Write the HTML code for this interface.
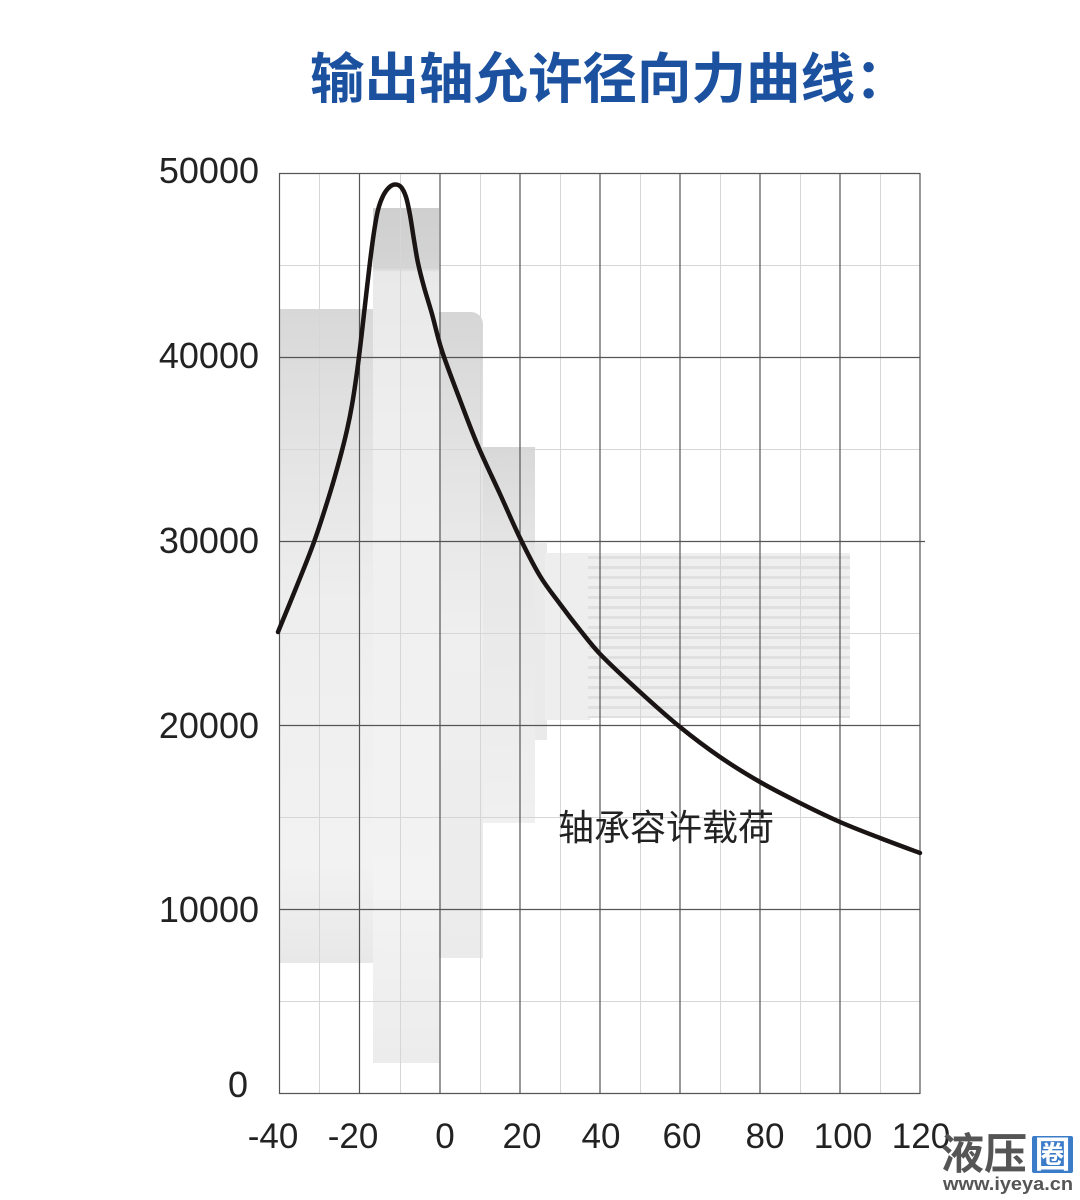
<!DOCTYPE html>
<html><head><meta charset="utf-8">
<style>
html,body{margin:0;padding:0;background:#fff;}
svg{display:block;}
</style></head>
<body>
<svg width="1080" height="1200" viewBox="0 0 1080 1200" xmlns="http://www.w3.org/2000/svg">
<defs>
<linearGradient id="gL" x1="0" y1="309" x2="0" y2="963" gradientUnits="userSpaceOnUse">
<stop offset="0" stop-color="#d8d8d8"/><stop offset="0.2" stop-color="#e3e3e3"/><stop offset="0.45" stop-color="#eeeeee"/><stop offset="0.85" stop-color="#f2f2f2"/><stop offset="1" stop-color="#e8e8e8"/>
</linearGradient>
<linearGradient id="gC" x1="0" y1="208" x2="0" y2="1063" gradientUnits="userSpaceOnUse">
<stop offset="0" stop-color="#cfcfcf"/><stop offset="0.07" stop-color="#d4d4d4"/><stop offset="0.075" stop-color="#e9e9e9"/><stop offset="0.3" stop-color="#efefef"/><stop offset="0.8" stop-color="#f3f3f3"/><stop offset="1" stop-color="#ececec"/>
</linearGradient>
<linearGradient id="gR" x1="0" y1="312" x2="0" y2="958" gradientUnits="userSpaceOnUse">
<stop offset="0" stop-color="#d6d6d6"/><stop offset="0.25" stop-color="#e4e4e4"/><stop offset="0.5" stop-color="#efefef"/><stop offset="1" stop-color="#ebebeb"/>
</linearGradient>
<linearGradient id="gS" x1="0" y1="447" x2="0" y2="823" gradientUnits="userSpaceOnUse">
<stop offset="0" stop-color="#d8d8d8"/><stop offset="0.3" stop-color="#e7e7e7"/><stop offset="1" stop-color="#f0f0f0"/>
</linearGradient>
<pattern id="stripes" x="0" y="553" width="20" height="10" patternUnits="userSpaceOnUse">
<rect x="0" y="0" width="20" height="10" fill="#efefef"/>
<rect x="0" y="3" width="20" height="3" fill="#e0e0e0"/>
</pattern>
</defs>

<!-- title -->
<text x="310" y="98" font-family="'Liberation Sans','Noto Sans CJK SC',sans-serif" font-size="54.5" font-weight="bold" fill="#1c51a0">输出轴允许径向力曲线：</text>

<!-- shaft background -->
<rect x="279" y="309" width="94" height="654" fill="url(#gL)"/>
<rect x="373" y="208" width="66" height="855" fill="url(#gC)"/>
<path d="M439,312 L472,312 Q483,314 483,325 L483,958 L439,958 Z" fill="url(#gR)"/>
<rect x="483" y="447" width="52" height="376" fill="url(#gS)"/>
<rect x="535" y="543" width="12" height="197" fill="#eaeaea"/>
<rect x="545" y="553" width="45" height="167" fill="#eeeeee"/>
<rect x="588" y="553" width="262" height="165" fill="url(#stripes)"/>

<!-- minor grid -->
<g stroke="#d6d6d6" stroke-width="1">
<line x1="319.5" y1="173" x2="319.5" y2="1093"/>
<line x1="400.5" y1="173" x2="400.5" y2="1093"/>
<line x1="480.5" y1="173" x2="480.5" y2="1093"/>
<line x1="560.5" y1="173" x2="560.5" y2="1093"/>
<line x1="640.5" y1="173" x2="640.5" y2="1093"/>
<line x1="720.5" y1="173" x2="720.5" y2="1093"/>
<line x1="800.5" y1="173" x2="800.5" y2="1093"/>
<line x1="880.5" y1="173" x2="880.5" y2="1093"/>
<line x1="279" y1="265.5" x2="920" y2="265.5"/>
<line x1="279" y1="449.5" x2="920" y2="449.5"/>
<line x1="279" y1="633.5" x2="920" y2="633.5"/>
<line x1="279" y1="817.5" x2="920" y2="817.5"/>
<line x1="279" y1="1001.5" x2="920" y2="1001.5"/>
</g>
<!-- major grid -->
<g stroke="#555" stroke-width="1.2">
<line x1="279.5" y1="173" x2="279.5" y2="1094"/>
<line x1="359.5" y1="173" x2="359.5" y2="1094"/>
<line x1="440" y1="173" x2="440" y2="1094"/>
<line x1="520" y1="173" x2="520" y2="1094"/>
<line x1="600" y1="173" x2="600" y2="1094"/>
<line x1="680" y1="173" x2="680" y2="1094"/>
<line x1="760" y1="173" x2="760" y2="1094"/>
<line x1="840" y1="173" x2="840" y2="1094"/>
<line x1="920" y1="173" x2="920" y2="1094"/>
<line x1="279" y1="173.5" x2="920" y2="173.5"/>
<line x1="279" y1="357.5" x2="920" y2="357.5"/>
<line x1="279" y1="541.5" x2="925" y2="541.5"/>
<line x1="279" y1="725.5" x2="920" y2="725.5"/>
<line x1="279" y1="909.5" x2="920" y2="909.5"/>
<line x1="279" y1="1093.5" x2="920" y2="1093.5"/>
</g>

<!-- curve -->
<path fill="none" stroke="#1a1414" stroke-width="4.5" stroke-linejoin="round" stroke-linecap="round"
d="M278,632 C281,624.67 290,603 296,588 C302,573 308.33,557.83 314,542 C319.67,526.17 325.67,507 330,493 C334.33,479 337.17,468.5 340,458 C342.83,447.5 345,438.83 347,430 C349,421.17 350.33,414.67 352,405 C353.67,395.33 355.5,382.83 357,372 C358.5,361.17 359.67,351.17 361,340 C362.33,328.83 363.5,318 365,305 C366.5,292 368.5,274.17 370,262 C371.5,249.83 372.67,240.67 374,232 C375.33,223.33 376.5,216 378,210 C379.5,204 381.17,199.75 383,196 C384.83,192.25 387,189.42 389,187.5 C391,185.58 393,184.58 395,184.5 C397,184.42 399.17,184.92 401,187 C402.83,189.08 404.5,192.33 406,197 C407.5,201.67 408.67,207.83 410,215 C411.33,222.17 412.67,232 414,240 C415.33,248 416.33,255.17 418,263 C419.67,270.83 421.67,278.5 424,287 C426.33,295.5 429,303.33 432,314 C435,324.67 437.33,336.67 442,351 C446.67,365.33 454,384.17 460,400 C466,415.83 471.33,430.33 478,446 C484.67,461.67 493,478.67 500,494 C507,509.33 513.33,524.33 520,538 C526.67,551.67 533.33,565 540,576 C546.67,587 553.33,595 560,604 C566.67,613 573.33,621.67 580,630 C586.67,638.33 592,645.5 600,654 C610,664.33 626.67,679.83 640,692 C653.33,704.17 666.67,716.17 680,727 C693.33,737.83 706.67,747.83 720,757 C733.33,766.17 746.67,774.33 760,782 C773.33,789.67 786.67,796.33 800,803 C813.33,809.67 826.67,816.17 840,822 C853.33,827.83 866.67,832.83 880,838 C893.33,843.17 913.33,850.5 920,853"/>

<!-- annotation -->
<text x="558" y="840" font-family="'Liberation Sans','Noto Sans CJK SC',sans-serif" font-size="36" fill="#222">轴承容许载荷</text>

<!-- y labels -->
<g font-family="'Liberation Sans',sans-serif" font-size="36" fill="#222" text-anchor="end">
<text x="259" y="183">50000</text>
<text x="259" y="368">40000</text>
<text x="259" y="553">30000</text>
<text x="259" y="738">20000</text>
<text x="259" y="922">10000</text>
<text x="248" y="1097">0</text>
</g>
<!-- x labels -->
<g font-family="'Liberation Sans',sans-serif" font-size="35" fill="#222" text-anchor="middle">
<text x="273" y="1148">-40</text>
<text x="353" y="1148">-20</text>
<text x="445" y="1148">0</text>
<text x="522" y="1148">20</text>
<text x="601" y="1148">40</text>
<text x="682" y="1148">60</text>
<text x="765" y="1148">80</text>
<text x="843" y="1148">100</text>
<text x="921" y="1148">120</text>
</g>

<!-- watermark -->
<text x="941" y="1169" font-family="'Liberation Sans','Noto Sans CJK SC',sans-serif" font-size="43" font-weight="bold" fill="#555">液压</text>
<rect x="1032" y="1136" width="41" height="37" rx="2" fill="#3b7cc9"/>
<text x="1052.5" y="1167" text-anchor="middle" font-family="'Liberation Sans','Noto Sans CJK SC',sans-serif" font-size="36" font-weight="bold" fill="#ffffff">圈</text>
<text x="943" y="1190" font-family="'Liberation Sans',sans-serif" font-size="18" font-weight="bold" fill="#555" textLength="130" lengthAdjust="spacingAndGlyphs">www.iyeya.cn</text>
</svg>
</body></html>
